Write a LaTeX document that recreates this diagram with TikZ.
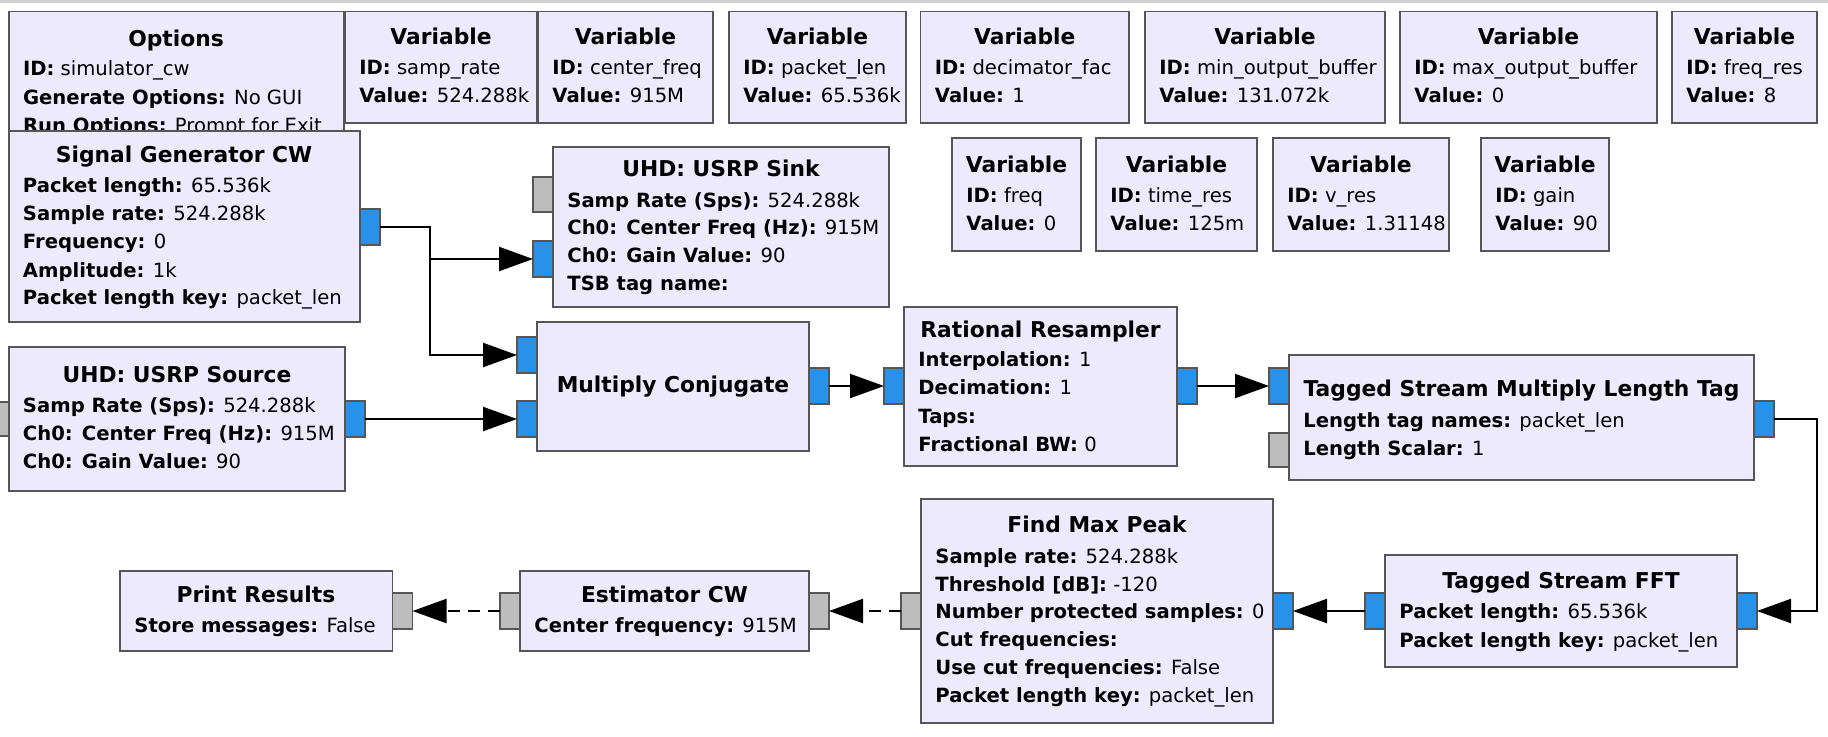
\documentclass[tikz,border=0pt]{standalone}
\usepackage{fontspec}
\setmainfont{DejaVu Sans}
\usetikzlibrary{arrows.meta}

\definecolor{blockfill}{HTML}{EEEAFD}
\definecolor{blockline}{HTML}{565656}
\definecolor{portblue}{HTML}{2892EA}
\definecolor{portgray}{HTML}{BDBDBD}

\tikzset{
  blk/.style={draw=blockline, fill=blockfill, line width=0.9pt, inner sep=0pt, outer sep=0pt, anchor=north west},
  bport/.style={draw=blockline, fill=portblue, line width=0.6pt, inner sep=0pt, outer sep=0pt, anchor=north west},
  gport/.style={draw=blockline, fill=portgray, line width=0.6pt, inner sep=0pt, outer sep=0pt, anchor=north west},
  ttl/.style={anchor=base, font=\bfseries\fontsize{10.9}{13}\selectfont, inner sep=0pt},
  prop/.style={anchor=base west, font=\fontsize{9.8}{12}\selectfont, inner sep=0pt},
  conn/.style={line width=1.1pt, -{Triangle[length=17pt,width=12pt]}},
  mconn/.style={conn, dash pattern=on 6pt off 4pt},
}

% block box: style name x1 y1 x2 y2
\newcommand\bx[6]{\node[#1, minimum width={(#5-#3)*0.5pt}, minimum height={(#6-#4)*0.5pt}] (#2) at ({#3},{#4}) {};}
\newcommand\ttlx[4]{\node[ttl] (#1) at ({#2},{#3}) {#4};}
\newcommand\prx[5]{\node[prop] (#1) at ({#2},{#3}) {\textbf{#4} #5};}
% variable block: name x1 x2 top bottom base1 base2 id value
\newcommand\varblk[9]{%
  \bx{blk}{#1}{#2}{#4}{#3}{#5}
  \ttlx{#1t}{(#2+#3)/2}{#6}{Variable}
  \prx{#1a}{#2+14}{#7}{ID:}{#8}
  \prx{#1b}{#2+14}{#7+28}{Value:}{#9}}

\begin{document}
\begin{tikzpicture}[x=0.5pt, y=-0.5pt]
\useasboundingbox (0,0) rectangle (1828,736);
\fill[white] (0,0) rectangle (1828,736);
\fill[black!18] (0,0) rectangle (1828,2.5);

% Options
\bx{blk}{opts}{8.7}{11.5}{344}{160}
\ttlx{optst}{176}{46}{Options}
\prx{optsa}{22.7}{75.5}{ID:}{simulator\_cw}
\prx{optsb}{22.7}{104}{Generate Options:}{No GUI}
\prx{optsc}{22.7}{132.5}{Run Options:}{Prompt for Exit}

% Variables, top row
\varblk{vsr}{345}{537}{11.5}{123}{44}{74.5}{samp\_rate}{524.288k}
\varblk{vcf}{538}{713}{11.5}{123}{44}{74.5}{center\_freq}{915M}
\varblk{vpl}{729}{906}{11.5}{123}{44}{74.5}{packet\_len}{65.536k}
\varblk{vdf}{920.5}{1129}{11.5}{123}{44}{74.5}{decimator\_fac}{1}
\varblk{vmin}{1145}{1385}{11.5}{123}{44}{74.5}{min\_output\_buffer}{131.072k}
\varblk{vmax}{1400}{1657}{11.5}{123}{44}{74.5}{max\_output\_buffer}{0}
\varblk{vfr}{1672}{1817}{11.5}{123}{44}{74.5}{freq\_res}{8}
% Variables, second row
\varblk{vfq}{952}{1081}{138}{251}{172}{202}{freq}{0}
\varblk{vtr}{1096}{1257}{138}{251}{172}{202}{time\_res}{125m}
\varblk{vvr}{1273}{1449}{138}{251}{172}{202}{v\_res}{1.31148}
\varblk{vgn}{1481}{1609}{138}{251}{172}{202}{gain}{90}

% Signal Generator CW
\bx{blk}{sg}{8.6}{131}{360}{322}
\ttlx{sgt}{184}{162}{Signal Generator CW}
\prx{sga}{22.6}{192}{Packet length:}{65.536k}
\prx{sgb}{22.6}{220.5}{Sample rate:}{524.288k}
\prx{sgc}{22.6}{248}{Frequency:}{0}
\prx{sgd}{22.6}{277}{Amplitude:}{1k}
\prx{sge}{22.6}{304}{Packet length key:}{packet\_len}
\bx{bport}{sgo}{360}{209}{380}{245}

% UHD: USRP Sink
\bx{blk}{sink}{553}{147}{889}{307}
\ttlx{sinkt}{721}{176}{UHD: USRP Sink}
\prx{sinka}{567}{207}{Samp Rate (Sps):}{524.288k}
\prx{sinkb}{567}{234}{Ch0: Center Freq (Hz):}{915M}
\prx{sinkc}{567}{262}{Ch0: Gain Value:}{90}
\prx{sinkd}{567}{290}{TSB tag name:}{}
\bx{gport}{sinkmsg}{533}{177}{553}{212}
\bx{bport}{sinkin}{533}{241}{553}{277}

% UHD: USRP Source
\bx{blk}{src}{8.6}{347}{345}{491}
\ttlx{srct}{177}{382}{UHD: USRP Source}
\prx{srca}{22.6}{412}{Samp Rate (Sps):}{524.288k}
\prx{srcb}{22.6}{440}{Ch0: Center Freq (Hz):}{915M}
\prx{srcc}{22.6}{468}{Ch0: Gain Value:}{90}
\bx{gport}{srcmsg}{-12}{402}{8.6}{436}
\bx{bport}{srco}{345}{401}{365}{437}

% Multiply Conjugate
\bx{blk}{mc}{537}{322}{809}{451}
\ttlx{mct}{673}{392}{Multiply Conjugate}
\bx{bport}{mcin1}{517}{337}{537}{373}
\bx{bport}{mcin2}{517}{401}{537}{437}
\bx{bport}{mco}{809}{368}{829}{404}

% Rational Resampler
\bx{blk}{rr}{904}{307}{1177}{466}
\ttlx{rrt}{1040.5}{337}{Rational Resampler}
\prx{rra}{918}{366}{Interpolation:}{1}
\prx{rrb}{918}{394}{Decimation:}{1}
\prx{rrc}{918}{423}{Taps:}{}
\prx{rrd}{918}{451}{Fractional BW:}{0}
\bx{bport}{rrin}{884}{368}{904}{404}
\bx{bport}{rro}{1177}{368}{1197}{404}

% Tagged Stream Multiply Length Tag
\bx{blk}{tm}{1289}{355}{1754}{480}
\ttlx{tmt}{1521.5}{396}{Tagged Stream Multiply Length Tag}
\prx{tma}{1303}{427}{Length tag names:}{packet\_len}
\prx{tmb}{1303}{455}{Length Scalar:}{1}
\bx{bport}{tmin}{1269}{368}{1289}{404}
\bx{gport}{tmmsg}{1269}{433}{1289}{467}
\bx{bport}{tmo}{1754}{401}{1774}{437}

% Tagged Stream FFT
\bx{blk}{fft}{1385}{555}{1737}{667}
\ttlx{fftt}{1561}{588}{Tagged Stream FFT}
\prx{ffta}{1399}{618}{Packet length:}{65.536k}
\prx{fftb}{1399}{647}{Packet length key:}{packet\_len}
\bx{bport}{fftin}{1737}{593}{1757}{629}
\bx{bport}{fftout}{1365}{593}{1385}{629}

% Find Max Peak
\bx{blk}{fmp}{921}{499}{1273}{723}
\ttlx{fmpt}{1097}{532}{Find Max Peak}
\prx{fmpa}{935}{563}{Sample rate:}{524.288k}
\prx{fmpb}{935}{591}{Threshold [dB]:}{-120}
\prx{fmpc}{935}{618}{Number protected samples:}{0}
\prx{fmpd}{935}{646}{Cut frequencies:}{}
\prx{fmpe}{935}{674}{Use cut frequencies:}{False}
\prx{fmpf}{935}{702}{Packet length key:}{packet\_len}
\bx{bport}{fmpin}{1273}{593}{1293}{629}
\bx{gport}{fmpmsg}{901}{593}{921}{629}

% Estimator CW
\bx{blk}{est}{520}{571}{809}{651}
\ttlx{estt}{664.5}{602}{Estimator CW}
\prx{esta}{534}{632}{Center frequency:}{915M}
\bx{gport}{estout}{809}{593}{829}{629}
\bx{gport}{estin}{500}{593}{520}{629}

% Print Results
\bx{blk}{pr}{120}{571}{392.5}{651}
\ttlx{prt}{256}{602}{Print Results}
\prx{pra}{134}{632}{Store messages:}{False}
\bx{gport}{prin}{392.5}{593}{412.5}{629}

% Connections
\draw[conn] (sgo.east) -- ++(50,0) |- (sinkin.west);
\draw[conn] (sgo.east) -- ++(50,0) |- (mcin1.west);
\draw[conn] (srco.east) -- (mcin2.west);
\draw[conn] (mco.east) -- (rrin.west);
\draw[conn] (rro.east) -- (tmin.west);
\draw[conn] (tmo.east) -- ++(43,0) |- (fftin.east);
\draw[conn] (fftout.west) -- (fmpin.east);
\draw[mconn] (fmpmsg.west) -- (estout.east);
\draw[mconn] (estin.west) -- (prin.east);
\end{tikzpicture}
\end{document}
